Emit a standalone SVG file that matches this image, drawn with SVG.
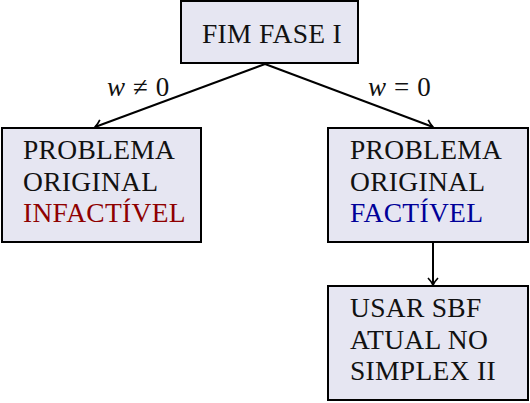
<svg xmlns="http://www.w3.org/2000/svg" width="530" height="403" viewBox="0 0 530 403">
<style>
.box{fill:#e6e6f2;stroke:#000;stroke-width:2}
.t{font-family:"Liberation Serif","DejaVu Serif",serif;font-size:27.5px;letter-spacing:0.3px;fill:#111}
.m{font-family:"Liberation Serif","DejaVu Serif",serif;font-size:27px;fill:#111}
.red{fill:#8f0000}
.blue{fill:#000099}
.c{stroke:#000;stroke-width:2;fill:none;marker-end:url(#ah)}
</style>
<defs>
<marker id="ah" viewBox="-8 -6 10 12" refX="0" refY="0" markerWidth="10" markerHeight="12" markerUnits="userSpaceOnUse" orient="auto">
<path d="M-7,-5 C-4,-2 -1,-0.5 0,0 C-1,0.5 -4,2 -7,5" fill="none" stroke="#000" stroke-width="1.7"/>
</marker>
</defs>
<g id="connectors">
<line class="c" x1="265" y1="64" x2="95" y2="127"/>
<line class="c" x1="265" y1="64" x2="433" y2="127"/>
<line class="c" x1="433" y1="243" x2="433" y2="285"/>
<text class="m" x="107" y="96"><tspan font-style="italic">w</tspan><tspan dx="8">≠</tspan><tspan dx="8">0</tspan></text>
<text class="m" x="368" y="96"><tspan font-style="italic">w</tspan><tspan dx="8">=</tspan><tspan dx="8">0</tspan></text>
</g>
<g id="fim">
<rect class="box" x="181" y="1" width="177" height="62"/>
<text class="t" x="202" y="43">FIM FASE I</text>
</g>
<g id="infactivel">
<rect class="box" x="2" y="128" width="199" height="114"/>
<text class="t" x="23" y="159">PROBLEMA</text>
<text class="t" x="23" y="191">ORIGINAL</text>
<text class="t red" x="23" y="222">INFACTÍVEL</text>
</g>
<g id="factivel">
<rect class="box" x="328" y="128" width="200" height="114"/>
<text class="t" x="350" y="159">PROBLEMA</text>
<text class="t" x="350" y="191">ORIGINAL</text>
<text class="t blue" x="350" y="222">FACTÍVEL</text>
</g>
<g id="usar">
<rect class="box" x="328" y="286" width="200" height="114"/>
<text class="t" x="350" y="317">USAR SBF</text>
<text class="t" x="350" y="349">ATUAL NO</text>
<text class="t" x="350" y="380">SIMPLEX II</text>
</g>
</svg>
